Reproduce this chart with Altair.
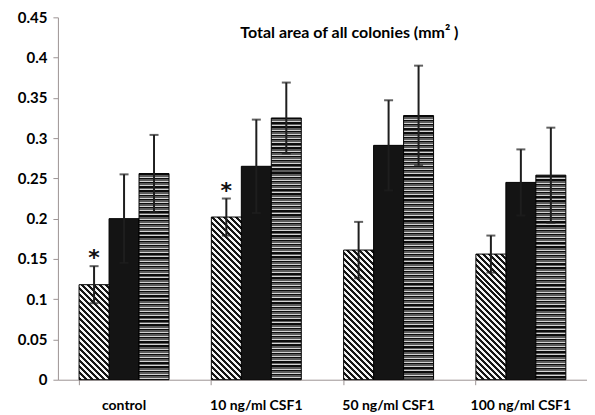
import altair as alt
import pandas as pd

# ---------------- data ----------------
categories = ["control", "10 ng/ml CSF1", "50 ng/ml CSF1", "100 ng/ml CSF1"]
series = ["diagonal", "solid", "horizontal"]

diag_vals = [0.118, 0.202, 0.161, 0.156]
diag_err = [0.023, 0.023, 0.035, 0.023]
solid_vals = [0.200, 0.265, 0.291, 0.245]
solid_err = [0.055, 0.058, 0.056, 0.041]
horiz_vals = [0.256, 0.325, 0.328, 0.254]
horiz_err = [0.048, 0.044, 0.062, 0.059]
sig_marks = ["*", "*", "", ""]

y_ticks = [0, 0.05, 0.1, 0.15, 0.2, 0.25, 0.3, 0.35, 0.4, 0.45]
title_text = ["Total area of all colonies (mm² )"]

# ---------------- layout / style ----------------
W, H = 530, 363
Y_MAX = 0.45
PAD_INNER, PAD_OUTER = 0.32, 0.16
STEP = W / (len(categories) - PAD_INNER + 2 * PAD_OUTER)
BAR_W = STEP * (1 - PAD_INNER) / len(series)
AXIS_COLOR = "#9c9494"
FONT = "Lato"

rows = []
for s, vals, errs in [("diagonal", diag_vals, diag_err),
                      ("solid", solid_vals, solid_err),
                      ("horizontal", horiz_vals, horiz_err)]:
    for i, c in enumerate(categories):
        rows.append({
            "category": c, "series": s, "value": vals[i], "err": errs[i],
            "lo": vals[i] - errs[i], "hi": vals[i] + errs[i],
            "mark": sig_marks[i] if s == "diagonal" else "",
        })
df = pd.DataFrame(rows)


def clip(v):
    return max(0.0, min(1.0, v))


def banded_stops(span, bands):
    """bands: list of (length_px, colour) repeated along span px."""
    stops = []
    pos = 0.0
    while pos < span:
        for length, colour in bands:
            a, b = clip(pos / span), clip((pos + length) / span)
            stops += [{"offset": a, "color": colour}, {"offset": b, "color": colour}]
            pos += length
    return stops


def hstripe_gradient(value):
    h = value / Y_MAX * H
    bands = [(1.4, "#0c0c0c"), (1.8, "#5c5c5c"), (1.0, "#d4d4d4")]
    return {"gradient": "linear", "x1": 0, "y1": 0, "x2": 0, "y2": 1,
            "stops": banded_stops(h, bands)}


def diag_gradient(value):
    h = value / Y_MAX * H
    w = BAR_W
    k = (w + h) / (w * w + h * h)
    bands = [(3.0, "#151515"), (3.0, "#f4f4f4")]
    return {"gradient": "linear", "x1": 0, "y1": 1, "x2": k * w, "y2": 1 - k * h,
            "stops": banded_stops(w + h, bands)}


x_enc = alt.X(
    "category:N", sort=categories,
    scale=alt.Scale(domain=categories, paddingInner=PAD_INNER, paddingOuter=PAD_OUTER),
    axis=alt.Axis(title=None, labelAngle=0, bandPosition=0, tickSize=5,
                  domainColor=AXIS_COLOR, tickColor=AXIS_COLOR, labelPadding=14,
                  labelFont=FONT, labelFontSize=14, labelFontWeight="bold",
                  labelColor="black", grid=False),
)
xo_enc = alt.XOffset("series:N", sort=series,
                     scale=alt.Scale(domain=series, paddingInner=0, paddingOuter=0))
y_enc = alt.Y(
    "value:Q",
    scale=alt.Scale(domain=[0, Y_MAX], nice=False, zero=True),
    axis=alt.Axis(title=None, values=y_ticks, format="~g", grid=False, tickSize=5,
                  domainColor=AXIS_COLOR, tickColor=AXIS_COLOR, labelPadding=6,
                  labelFont=FONT, labelFontSize=15, labelFontWeight="bold",
                  labelColor="black"),
)

base = alt.Chart(df).encode(x=x_enc, xOffset=xo_enc)

layers = []
# solid bars
layers.append(
    base.transform_filter(alt.datum.series == "solid")
    .mark_bar(fill="#141414", stroke="#000000", strokeWidth=1)
    .encode(y=y_enc)
)
# patterned bars, one per bar so the stripe spacing stays constant
for i, c in enumerate(categories):
    layers.append(
        base.transform_filter((alt.datum.series == "diagonal") & (alt.datum.category == c))
        .mark_bar(fill=diag_gradient(diag_vals[i]), stroke="#000000", strokeWidth=1)
        .encode(y=y_enc)
    )
    layers.append(
        base.transform_filter((alt.datum.series == "horizontal") & (alt.datum.category == c))
        .mark_bar(fill=hstripe_gradient(horiz_vals[i]), stroke="#000000", strokeWidth=1)
        .encode(y=y_enc)
    )

# error bars
layers.append(base.mark_rule(color="#1e1e1e", strokeWidth=2).encode(y=alt.Y("lo:Q"), y2="hi:Q"))
layers.append(base.mark_tick(color="#1e1e1e", size=9, thickness=2, orient="horizontal")
              .encode(y=alt.Y("lo:Q")))
layers.append(base.mark_tick(color="#1e1e1e", size=9, thickness=2, orient="horizontal")
              .encode(y=alt.Y("hi:Q")))
# significance asterisks
layers.append(
    base.transform_filter(alt.datum.mark != "")
    .mark_text(font="DejaVu Sans", fontSize=22, fontWeight="bold", color="#111111",
               baseline="middle", dy=-8)
    .encode(y=alt.Y("hi:Q"), text="mark:N")
)
# chart heading, drawn inside the plot area
layers.append(
    alt.Chart(pd.DataFrame({"t": title_text}))
    .mark_text(font=FONT, fontSize=16, fontWeight="bold", color="black",
               align="center", baseline="alphabetic")
    .encode(text="t:N", x=alt.value(292), y=alt.value(21))
)

chart = (
    alt.layer(*layers)
    .properties(
        width=W, height=H,
        padding={"left": 9, "top": 2, "right": 0, "bottom": 0},
    )
    .configure_view(stroke=None)
)

chart.save("out.html", embed_options={"renderer": "svg", "actions": False})
